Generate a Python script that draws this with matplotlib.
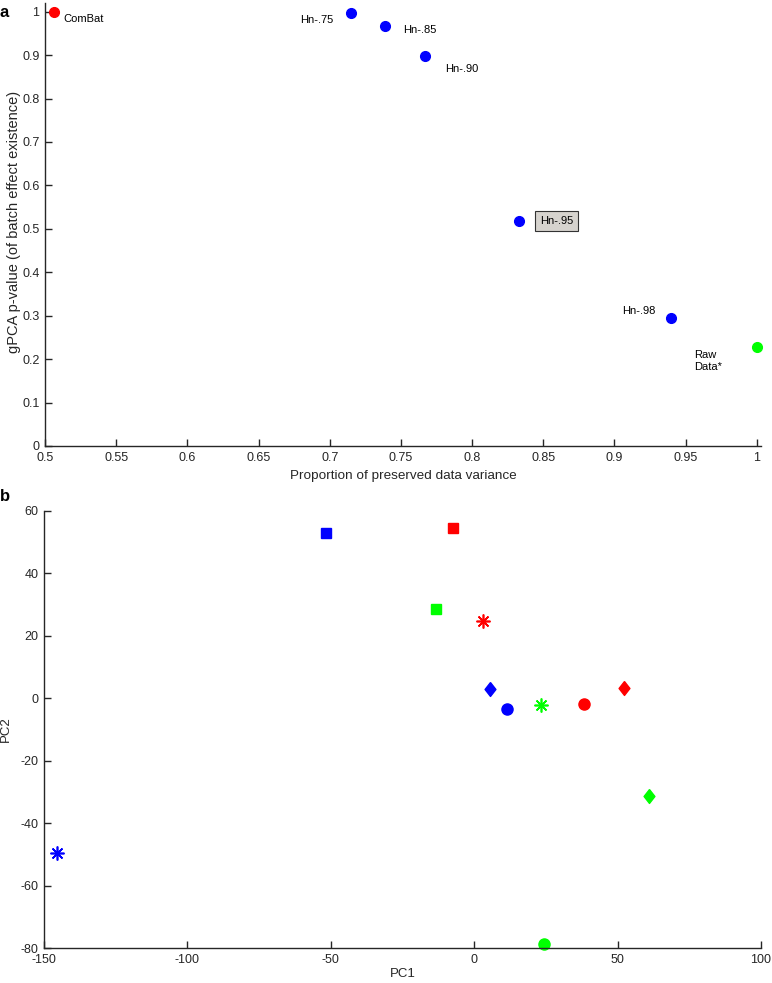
import matplotlib
matplotlib.use("Agg")
import matplotlib.pyplot as plt

plt.rcParams['font.family'] = ['Liberation Sans', 'DejaVu Sans']
plt.rcParams['axes.unicode_minus'] = False

# panel a: variance kept vs gPCA p-value
methods = ["ComBat", "Hn-.75", "Hn-.85", "Hn-.90", "Hn-.95", "Hn-.98", "Raw\nData*"]
prop_var = [0.506, 0.715, 0.739, 0.767, 0.833, 0.940, 1.0]
pvals = [1.0, 0.997, 0.968, 0.897, 0.517, 0.295, 0.228]
method_colors = ["#ff0000", "#0000ff", "#0000ff", "#0000ff", "#0000ff", "#0000ff", "#00ff00"]
# label offsets in pixels (dx, dy, ha)
label_pos = [(10, -7, "left"), (-18, -7, "right"), (18, -4, "left"), (20, -13, "left"),
             (21, 0, "left"), (-16, 7, "right"), (-63, -14, "left")]

# panel b: PCA scores
pc1 = [-51.7, -7.3, -13.2, 2.9, 5.5, 11.5, 23.2, 38.4, 52.3, 61.0, -145.5, 24.4]
pc2 = [52.9, 54.5, 28.5, 24.8, 2.9, -3.5, -2.2, -1.8, 3.2, -31.4, -49.7, -78.8]
pc_markers = ["s", "s", "s", "*", "d", "o", "*", "o", "d", "d", "*", "o"]
pc_colors = ["#0000ff", "#ff0000", "#00ff00", "#ff0000", "#0000ff", "#0000ff",
             "#00ff00", "#ff0000", "#ff0000", "#00ff00", "#0000ff", "#00ff00"]

ink = "#262626"
diamond = [(0, 1), (0.78, 0), (0, -1), (-0.78, 0), (0, 1)]
fig = plt.figure(figsize=(7.72, 9.83), dpi=100)

def style(ax):
    for s in ["top", "right"]:
        ax.spines[s].set_visible(False)
    for s in ["left", "bottom"]:
        ax.spines[s].set_color(ink)
        ax.spines[s].set_linewidth(1.0)
    ax.tick_params(direction="in", length=5, width=1.0, colors=ink, labelsize=9, pad=4)

# ---- a ----
ax1 = fig.add_axes([0.0583, 0.5463, 0.9275, 0.4507])
style(ax1)
for x, y, c, lab, (dx, dy, ha) in zip(prop_var, pvals, method_colors, methods, label_pos):
    ax1.plot(x, y, "o", color=c, markersize=7, clip_on=False)
    kw = {}
    if lab == "Hn-.95":
        kw["bbox"] = dict(boxstyle="square,pad=0.45", facecolor="#d6d3ce", edgecolor="#333333", linewidth=0.8)
    ax1.annotate(lab, (x, y), xytext=(dx, dy), textcoords="offset pixels",
                 ha=ha, va="center", fontsize=8, color="black", linespacing=1.25, **kw)
ax1.set_xlim(0.5, 1.003)
ax1.set_ylim(0, 1.02)
ax1.set_xticks([0.5, 0.55, 0.6, 0.65, 0.7, 0.75, 0.8, 0.85, 0.9, 0.95, 1.0])
ax1.set_xticklabels(["0.5", "0.55", "0.6", "0.65", "0.7", "0.75", "0.8", "0.85", "0.9", "0.95", "1"])
ax1.set_yticks([0, 0.1, 0.2, 0.3, 0.4, 0.5, 0.6, 0.7, 0.8, 0.9, 1.0])
ax1.set_yticklabels(["0", "0.1", "0.2", "0.3", "0.4", "0.5", "0.6", "0.7", "0.8", "0.9", "1"])
ax1.set_xlabel("Proportion of preserved data variance", fontsize=9.7, color=ink, labelpad=5)
ax1.set_ylabel("gPCA p-value (of batch effect existence)", fontsize=10.5, color=ink)
ax1.yaxis.set_label_coords(-0.034, 0.505)
fig.text(0.0, 0.995, "a", fontsize=12, fontweight="bold", va="top")

# ---- b ----
ax2 = fig.add_axes([0.057, 0.0356, 0.9288, 0.4446])
style(ax2)
for x, y, m, c in zip(pc1, pc2, pc_markers, pc_colors):
    if m == "*":
        ax2.plot(x, y, marker=(8, 2, 0), color=c, markersize=10, markeredgewidth=1.2,
                 linestyle="none", clip_on=False)
    elif m == "d":
        ax2.plot(x, y, marker=diamond, color=c, markersize=10, linestyle="none", clip_on=False)
    elif m == "s":
        ax2.plot(x, y, marker="s", color=c, markersize=6.5, linestyle="none", clip_on=False)
    else:
        ax2.plot(x, y, marker="o", color=c, markersize=8, linestyle="none", clip_on=False)
ax2.set_xlim(-150, 100)
ax2.set_ylim(-80, 60)
ax2.set_xticks([-150, -100, -50, 0, 50, 100])
ax2.set_yticks([-80, -60, -40, -20, 0, 20, 40, 60])
ax2.set_xlabel("PC1", fontsize=9.5, color=ink, labelpad=2)
ax2.set_ylabel("PC2", fontsize=9.5, color=ink)
ax2.yaxis.set_label_coords(-0.045, 0.5)
fig.text(0.0, 0.503, "b", fontsize=12, fontweight="bold", va="top")

fig.savefig("out.png", dpi=100)
